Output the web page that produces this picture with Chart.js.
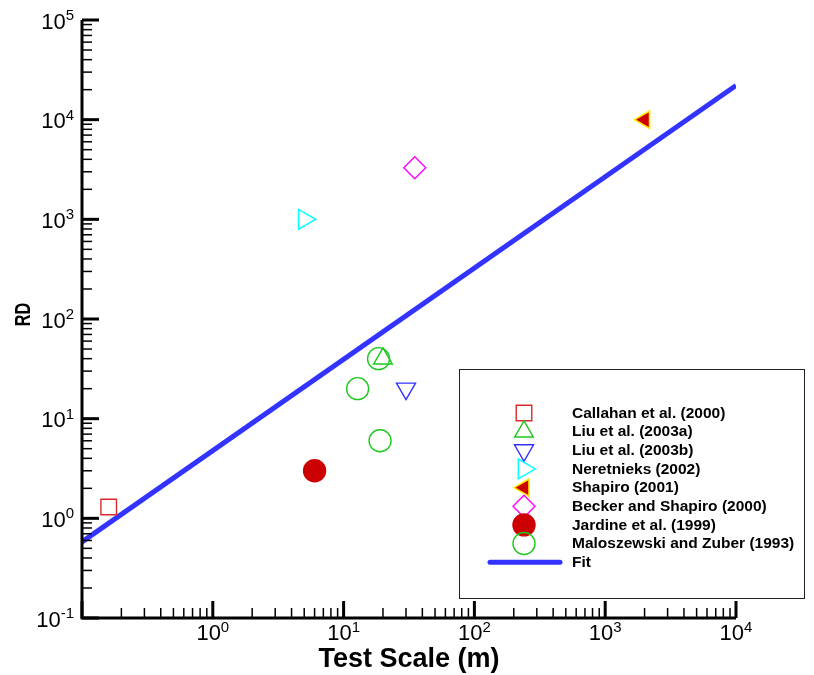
<!DOCTYPE html>
<html>
<head>
<meta charset="utf-8">
<title>RD vs Test Scale</title>
<script src="https://cdn.jsdelivr.net/npm/chart.js@4.4.1/dist/chart.umd.min.js"></script>
<style>
  html, body { margin: 0; padding: 0; background: #fff; }
  #wrap { width: 814px; height: 675px; }
</style>
</head>
<body>
<div id="wrap"><canvas id="rdChart" width="814" height="675"></canvas></div>
<script>
// measured data (test scale in m, RD)
const callahanX = [0.16];          const callahanY = [1.3];
const liuAX = [20];                const liuAY = [40];
const liuBX = [30];                const liuBY = [20];
const neretnieksX = [5];           const neretnieksY = [1000];
const shapiroX = [2000];           const shapiroY = [10000];
const beckerX = [35];              const beckerY = [3300];
const jardineX = [6];              const jardineY = [3];
const maloszewskiX = [18.5, 12.8, 19]; const maloszewskiY = [40, 20, 6];
// power-law fit, end points
const fitX = [0.1, 10000];
const fitY = [0.58, 22000];

// decades with a major tick, and the ones that get a label
const xExps = [-1, 0, 1, 2, 3, 4];
const xLabelExps = [0, 1, 2, 3, 4];
const yExps = [-1, 0, 1, 2, 3, 4, 5];

const FONT = '"Liberation Sans", Arial, Helvetica, sans-serif';

function pts(xs, ys) {
  return xs.map((x, i) => ({ x: x, y: ys[i] }));
}

function series(label, xs, ys, style, color, fill, radius, rot, bw) {
  return {
    label: label,
    data: pts(xs, ys),
    pointStyle: style,
    pointRadius: radius,
    pointRotation: rot || 0,
    pointBorderColor: color,
    pointBackgroundColor: fill || 'rgba(0,0,0,0)',
    pointBorderWidth: bw || 1.4,
    showLine: false
  };
}

// draws "10" with a raised exponent
function drawPow(ctx, exp, x, y, align) {
  const big = '22px ' + FONT, small = '15px ' + FONT;
  ctx.font = big;
  const base = '10';
  const wb = ctx.measureText(base).width;
  ctx.font = small;
  const e = String(exp);
  const we = ctx.measureText(e).width;
  const total = wb + we;
  let left = x;
  if (align === 'right') left = x - total;
  else if (align === 'center') left = x - total / 2;
  ctx.textAlign = 'left';
  ctx.textBaseline = 'alphabetic';
  ctx.fillStyle = '#000';
  ctx.font = big;
  ctx.fillText(base, left, y);
  ctx.font = small;
  ctx.fillText(e, left + wb, y - 8.5);
}

const axesPlugin = {
  id: 'tecAxes',
  afterDatasetsDraw(chart) {
    const ctx = chart.ctx;
    const xs = chart.scales.x, ys = chart.scales.y;
    const a = chart.chartArea;
    ctx.save();
    ctx.strokeStyle = '#000';
    ctx.lineCap = 'butt';

    // axis lines
    ctx.lineWidth = 3;
    ctx.beginPath();
    ctx.moveTo(a.left, a.top);
    ctx.lineTo(a.left, a.bottom);
    ctx.lineTo(a.right, a.bottom);
    ctx.stroke();

    // x ticks, pointing inward
    xExps.forEach((n, i) => {
      const p = xs.getPixelForValue(Math.pow(10, n));
      ctx.lineWidth = 3;
      ctx.beginPath();
      ctx.moveTo(p, a.bottom);
      ctx.lineTo(p, a.bottom - 17);
      ctx.stroke();
      if (i < xExps.length - 1) {
        ctx.lineWidth = 1.5;
        for (let k = 2; k <= 9; k++) {
          const q = xs.getPixelForValue(k * Math.pow(10, n));
          ctx.beginPath();
          ctx.moveTo(q, a.bottom);
          ctx.lineTo(q, a.bottom - 10);
          ctx.stroke();
        }
      }
      if (xLabelExps.includes(n)) drawPow(ctx, n, p, a.bottom + 22, 'center');
    });

    // y ticks
    yExps.forEach((n, i) => {
      const p = ys.getPixelForValue(Math.pow(10, n));
      ctx.lineWidth = 3;
      ctx.beginPath();
      ctx.moveTo(a.left, p);
      ctx.lineTo(a.left + 17, p);
      ctx.stroke();
      if (i < yExps.length - 1) {
        ctx.lineWidth = 1.5;
        for (let k = 2; k <= 9; k++) {
          const q = ys.getPixelForValue(k * Math.pow(10, n));
          ctx.beginPath();
          ctx.moveTo(a.left, q);
          ctx.lineTo(a.left + 10, q);
          ctx.stroke();
        }
      }
      drawPow(ctx, n, a.left - 8, p + 8.5, 'right');
    });

    // axis titles
    ctx.fillStyle = '#000';
    ctx.font = 'bold 27px ' + FONT;
    ctx.textAlign = 'center';
    ctx.textBaseline = 'alphabetic';
    ctx.fillText('Test Scale (m)', (a.left + a.right) / 2, 667);

    // vertical title, a little condensed
    ctx.save();
    ctx.translate(30, 314.5);
    ctx.rotate(-Math.PI / 2);
    ctx.scale(0.74, 1);
    ctx.font = 'bold 22px ' + FONT;
    ctx.fillText('RD', 0, 0);
    ctx.restore();

    ctx.restore();
  }
};

// boxed legend inside the plot, markers taken from the datasets
const boxLegend = {
  id: 'boxLegend',
  afterDraw(chart) {
    const ctx = chart.ctx;
    ctx.save();
    ctx.fillStyle = '#fff';
    ctx.fillRect(459, 369, 346, 230);
    ctx.strokeStyle = '#222';
    ctx.lineWidth = 1;
    ctx.strokeRect(459.5, 369.5, 345, 229);

    const rowY0 = 413, rowStep = 18.65;
    chart.data.datasets.forEach((ds, i) => {
      const y = rowY0 + i * rowStep;
      if (ds.showLine) {
        ctx.strokeStyle = ds.borderColor;
        ctx.lineWidth = ds.borderWidth;
        ctx.lineCap = 'round';
        ctx.beginPath();
        ctx.moveTo(490, y);
        ctx.lineTo(560, y);
        ctx.stroke();
      } else {
        ctx.strokeStyle = ds.pointBorderColor;
        ctx.fillStyle = ds.pointBackgroundColor;
        ctx.lineWidth = ds.pointBorderWidth;
        Chart.helpers.drawPoint(ctx, {
          pointStyle: ds.pointStyle,
          radius: ds.pointRadius,
          rotation: ds.pointRotation,
          borderWidth: ds.pointBorderWidth
        }, 524, y);
      }
      ctx.fillStyle = '#000';
      ctx.font = 'bold 15.5px ' + FONT;
      ctx.textAlign = 'left';
      ctx.textBaseline = 'middle';
      ctx.fillText(ds.label, 572, y + 0.5);
    });
    ctx.restore();
  }
};

const datasets = [
  series('Callahan et al. (2000)', callahanX, callahanY, 'rect', 'rgb(220,40,40)', null, 11),
  series('Liu et al. (2003a)', liuAX, liuAY, 'triangle', 'rgb(30,200,30)', null, 10.8),
  series('Liu et al. (2003b)', liuBX, liuBY, 'triangle', 'rgb(50,50,255)', null, 11, 180),
  series('Neretnieks (2002)', neretnieksX, neretnieksY, 'triangle', 'rgb(0,255,255)', null, 11.4, 90),
  series('Shapiro (2001)', shapiroX, shapiroY, 'triangle', 'rgb(255,235,0)', 'rgb(204,0,0)', 10, 270, 1.6),
  series('Becker and Shapiro (2000)', beckerX, beckerY, 'rectRot', 'rgb(255,0,255)', null, 11),
  series('Jardine et al. (1999)', jardineX, jardineY, 'circle', 'rgb(204,0,0)', 'rgb(204,0,0)', 11),
  series('Maloszewski and Zuber (1993)', maloszewskiX, maloszewskiY, 'circle', 'rgb(30,200,30)', null, 11),
  {
    label: 'Fit',
    data: pts(fitX, fitY),
    showLine: true,
    borderColor: 'rgb(51,51,255)',
    borderWidth: 5,
    pointRadius: 0,
    fill: false
  }
];

new Chart(document.getElementById('rdChart'), {
  type: 'scatter',
  data: { datasets: datasets },
  options: {
    responsive: false,
    animation: false,
    layout: { padding: { left: 82, right: 78, top: 20, bottom: 57 } },
    scales: {
      x: { type: 'logarithmic', min: 0.1, max: 10000, display: false },
      y: { type: 'logarithmic', min: 0.1, max: 100000, display: false }
    },
    plugins: {
      legend: { display: false },
      tooltip: { enabled: false }
    }
  },
  plugins: [axesPlugin, boxLegend]
});
</script>
</body>
</html>
